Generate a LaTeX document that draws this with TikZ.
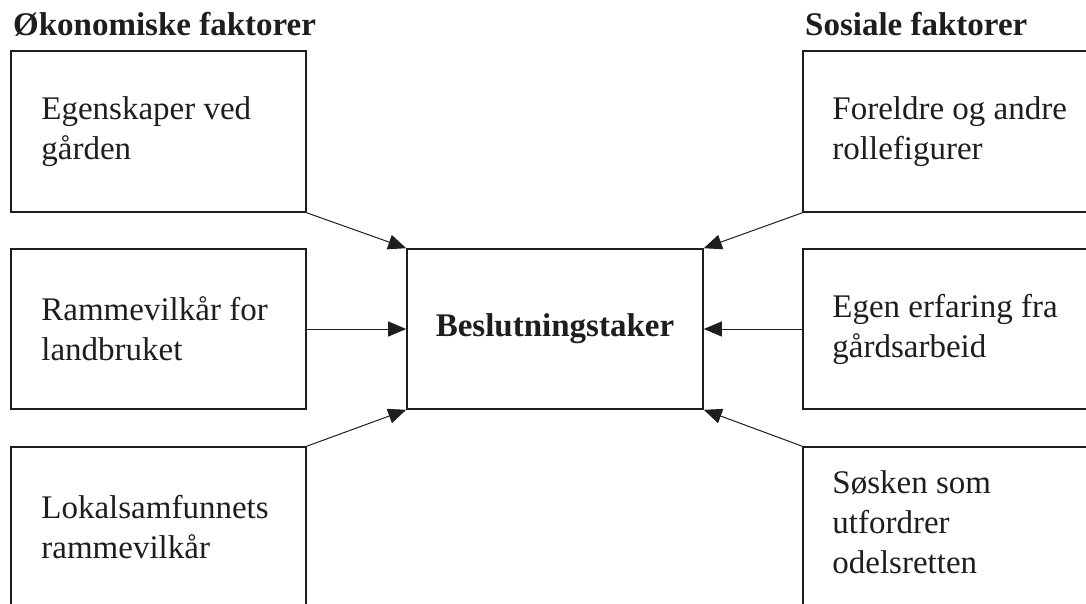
\documentclass[tikz,border=0pt]{standalone}
\usepackage{fontspec}
\setmainfont{Liberation Serif}
\usetikzlibrary{arrows.meta}
\definecolor{ink}{HTML}{1E1E1E}
\tikzset{
  fbox/.style={draw=ink, line width=1.6pt, minimum width=295pt, minimum height=161pt, inner sep=0pt},
  cbox/.style={draw=ink, line width=1.6pt, minimum width=296pt, minimum height=160pt, inner sep=0pt,
    font=\fontsize{33}{40}\selectfont\bfseries, text=ink},
  btext/.style={anchor=west, align=left, inner sep=0pt, font=\fontsize{33}{40}\selectfont, text=ink},
  head/.style={anchor=base west, inner sep=0pt, font=\fontsize{33}{40}\selectfont\bfseries, text=ink},
  arr/.style={draw=ink, line width=1pt, -{Triangle[length=18pt,width=15pt]}}
}
\begin{document}
\begin{tikzpicture}[x=1pt,y=-1pt]
\useasboundingbox (0,0) rectangle (1086,603);
\clip (0,0) rectangle (1086,603);
\fill[white] (0,0) rectangle (1086,603);
% headers
\node[head] (hl) at (13,35) {Økonomiske faktorer};
\node[head] (hr) at (805,35) {Sosiale faktorer};
% left boxes
\node[fbox] (L1) at (158.5,131.5) {};
\node[fbox, minimum height=160pt] (L2) at (158.5,329) {};
\node[fbox] (L3) at (158.5,527.5) {};
% center
\node[cbox] (C) at (555,329) {Beslutningstaker};
% right boxes
\node[fbox] (R1) at (950.5,131.5) {};
\node[fbox, minimum height=160pt] (R2) at (950.5,329) {};
\node[fbox] (R3) at (950.5,527.5) {};
% texts
\node[btext] (tL1) at ([xshift=31pt]L1.west) {Egenskaper ved\\gården};
\node[btext] (tL2) at ([xshift=31pt]L2.west) {Rammevilkår for\\landbruket};
\node[btext] (tL3) at ([xshift=31pt]L3.west) {Lokalsamfunnets\\rammevilkår};
\node[btext] (tR1) at ([xshift=30pt]R1.west) {Foreldre og andre\\rollefigurer};
\node[btext] (tR2) at ([xshift=30pt]R2.west) {Egen erfaring fra\\gårdsarbeid};
\node[btext] (tR3) at ([xshift=30pt,yshift=5pt]R3.west) {Søsken som\\utfordrer\\odelsretten};
% arrows
\draw[arr] (L1.south east) -- (C.north west);
\draw[arr] (L2.east) -- (C.west);
\draw[arr] (L3.north east) -- (C.south west);
\draw[arr] (R1.south west) -- (C.north east);
\draw[arr] (R2.west) -- (C.east);
\draw[arr] (R3.north west) -- (C.south east);
\end{tikzpicture}
\end{document}
